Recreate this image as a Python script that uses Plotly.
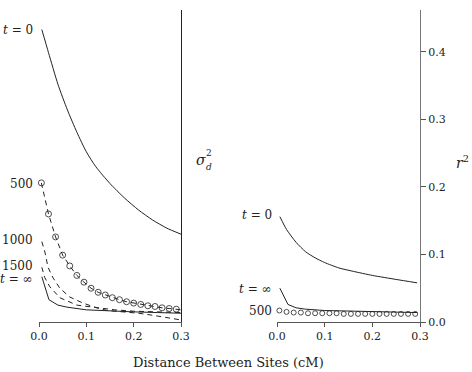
import plotly.graph_objects as go

# ---- data (left panel: sigma_d^2) ----
left_t0_x = [0.006, 0.02, 0.04, 0.06, 0.08, 0.10, 0.12, 0.15, 0.18, 0.21, 0.24, 0.27, 0.30]
left_t0_y = [0.433, 0.399, 0.352, 0.314, 0.281, 0.252, 0.230, 0.205, 0.184, 0.166, 0.151, 0.139, 0.130]

circ_x = [0.005, 0.020, 0.035, 0.050, 0.065, 0.080, 0.095, 0.110, 0.125, 0.140,
          0.155, 0.170, 0.185, 0.200, 0.215, 0.230, 0.245, 0.260, 0.275, 0.290]
left_500_circ_y = [0.206, 0.160, 0.126, 0.099, 0.083, 0.069, 0.059, 0.050, 0.044, 0.040,
                   0.036, 0.033, 0.030, 0.028, 0.026, 0.024, 0.023, 0.021, 0.020, 0.019]
left_500_x = [0.005, 0.020, 0.035, 0.050, 0.065, 0.080, 0.095, 0.110, 0.125, 0.140,
              0.155, 0.170, 0.185, 0.200, 0.215, 0.230, 0.245, 0.260, 0.275, 0.290, 0.300]
left_500_y = [0.206, 0.160, 0.126, 0.099, 0.083, 0.069, 0.059, 0.050, 0.044, 0.040,
              0.036, 0.033, 0.030, 0.028, 0.026, 0.024, 0.023, 0.021, 0.020, 0.019, 0.018]

left_1000_x = [0.006, 0.013, 0.019, 0.030, 0.044, 0.065, 0.093, 0.122, 0.144, 0.18, 0.21, 0.24, 0.27, 0.30]
left_1000_y = [0.119, 0.102, 0.081, 0.065, 0.050, 0.037, 0.028, 0.021, 0.017, 0.015, 0.013, 0.010, 0.007, 0.003]

left_1500_x = [0.006, 0.012, 0.023, 0.044, 0.08, 0.122, 0.16, 0.20, 0.25, 0.30]
left_1500_y = [0.081, 0.066, 0.052, 0.036, 0.025, 0.021, 0.018, 0.016, 0.015, 0.014]

left_inf_x = [0.006, 0.021, 0.04, 0.059, 0.10, 0.15, 0.20, 0.25, 0.30]
left_inf_y = [0.067, 0.033, 0.025, 0.022, 0.018, 0.016, 0.015, 0.014, 0.013]

# ---- data (right panel: r^2) ----
right_t0_x = [0.006, 0.02, 0.04, 0.06, 0.08, 0.10, 0.13, 0.16, 0.20, 0.25, 0.294]
right_t0_y = [0.156, 0.137, 0.118, 0.104, 0.095, 0.088, 0.080, 0.075, 0.069, 0.063, 0.058]

right_inf_x = [0.006, 0.023, 0.04, 0.06, 0.10, 0.15, 0.20, 0.25, 0.294]
right_inf_y = [0.050, 0.026, 0.021, 0.019, 0.017, 0.016, 0.015, 0.014, 0.014]

right_500_circ_y = [0.017, 0.015, 0.014, 0.014, 0.013, 0.013, 0.013, 0.013, 0.013, 0.012,
                    0.012, 0.012, 0.012, 0.012, 0.012, 0.012, 0.012, 0.012, 0.012, 0.012]

x_ticks = [0.0, 0.1, 0.2, 0.3]
x_ticktext = ["0.0", "0.1", "0.2", "0.3"]
y_ticks = [0.0, 0.1, 0.2, 0.3, 0.4]
y_ticktext = ["0.0", "0.1", "0.2", "0.3", "0.4"]

W, H = 472, 372
FONT = "DejaVu Serif"
INK = "#222222"

fig = go.Figure()

solid = dict(color=INK, width=1)
smooth = dict(color=INK, width=1, shape="spline", smoothing=0.6)
dashed = dict(color=INK, width=1, dash="5px,4px")
circ = dict(symbol="circle-open", size=6, color=INK, line=dict(width=0.8, color=INK))

# left panel
fig.add_trace(go.Scatter(x=left_t0_x, y=left_t0_y, mode="lines", line=smooth, xaxis="x", yaxis="y"))
fig.add_trace(go.Scatter(x=left_500_x, y=left_500_y, mode="lines", line=dashed, xaxis="x", yaxis="y"))
fig.add_trace(go.Scatter(x=circ_x, y=left_500_circ_y, mode="markers", marker=circ, xaxis="x", yaxis="y", cliponaxis=False))
fig.add_trace(go.Scatter(x=left_1000_x, y=left_1000_y, mode="lines", line=dashed, xaxis="x", yaxis="y"))
fig.add_trace(go.Scatter(x=left_1500_x, y=left_1500_y, mode="lines", line=dashed, xaxis="x", yaxis="y"))
fig.add_trace(go.Scatter(x=left_inf_x, y=left_inf_y, mode="lines", line=solid, xaxis="x", yaxis="y"))

# right panel
fig.add_trace(go.Scatter(x=right_t0_x, y=right_t0_y, mode="lines", line=smooth, xaxis="x2", yaxis="y2"))
fig.add_trace(go.Scatter(x=right_inf_x, y=right_inf_y, mode="lines", line=solid, xaxis="x2", yaxis="y2"))
fig.add_trace(go.Scatter(x=circ_x, y=right_500_circ_y, mode="markers",
                         marker=dict(symbol="circle-open", size=5, color=INK, line=dict(width=0.8, color=INK)),
                         xaxis="x2", yaxis="y2", cliponaxis=False))

ydom = [50 / H, 362 / H]
yr = [0, 0.462]
axis_common = dict(showgrid=False, zeroline=False, showline=True, linewidth=1,
                   automargin=False, tickfont=dict(family=FONT, size=11, color=INK))

fig.update_layout(
    width=W, height=H,
    margin=dict(l=0, r=0, t=0, b=0, autoexpand=False),
    paper_bgcolor="white", plot_bgcolor="white",
    showlegend=False,
    font=dict(family=FONT, color=INK),
    xaxis=dict(domain=[39 / W, 181 / W], range=[0, 0.3], tickvals=x_ticks, ticktext=x_ticktext,
               linecolor="#555", ticks="outside", ticklen=4, tickcolor="#555", anchor="y", **axis_common),
    yaxis=dict(domain=ydom, range=yr, side="right", anchor="x", showticklabels=False, ticks="",
               linecolor="#222", **axis_common),
    xaxis2=dict(domain=[277 / W, 420 / W], range=[0, 0.3], tickvals=x_ticks, ticktext=x_ticktext,
                linecolor="#555", ticks="outside", ticklen=4, tickcolor="#555", anchor="y2", **axis_common),
    yaxis2=dict(domain=ydom, range=yr, side="right", anchor="x2", tickvals=y_ticks, ticktext=y_ticktext,
                linecolor="#777", ticks="outside", ticklen=5, tickcolor="#555", **axis_common),
)


def ann(text, px, py, anchor="right", size=12):
    fig.add_annotation(text=text, xref="paper", yref="paper", x=px / W, y=1 - py / H,
                       xanchor=anchor, yanchor="middle", showarrow=False,
                       font=dict(family=FONT, size=size, color=INK))


ann("<i>t</i> = 0", 35, 30)
ann("500", 35, 184)
ann("1000", 35, 240)
ann("1500", 35, 266)
ann("<i>t</i> = ∞", 35, 279)
ann("<i>t</i> = 0", 274, 215)
ann("<i>t</i> = ∞", 274, 289)
ann("500", 274, 311)

ann("<i>σ</i>", 194, 160, anchor="left", size=14)
ann("2", 204, 153, anchor="left", size=9)
ann("<i>d</i>", 204, 167, anchor="left", size=9)
ann("<i>r</i><sup>2</sup>", 454, 162, anchor="left", size=14)

ann("Distance Between Sites (cM)", 228, 362, anchor="center", size=13)

fig.write_html("out.html")
